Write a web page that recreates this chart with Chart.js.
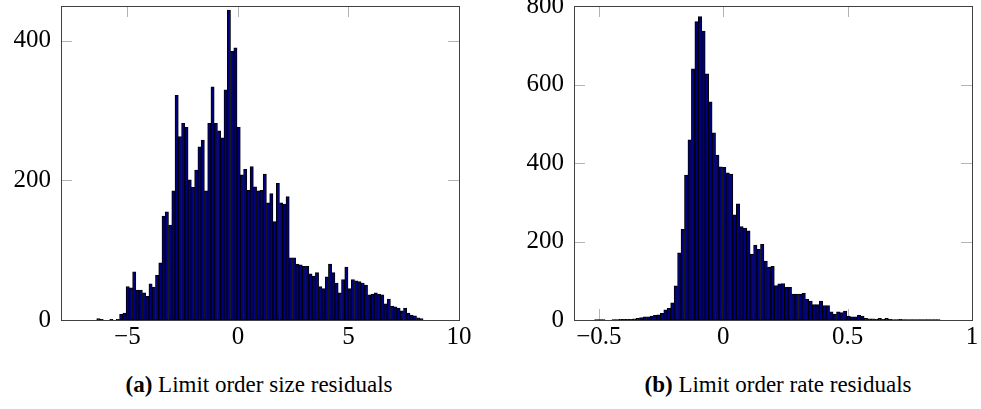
<!DOCTYPE html>
<html>
<head>
<meta charset="utf-8">
<script src="https://cdn.jsdelivr.net/npm/chart.js@4"></script>
<style>
  body { margin: 0; background: #fff; width: 981px; height: 409px; position: relative; overflow: hidden; }
  canvas { position: absolute; top: 0; }
  .cap { position: absolute; top: 372px; font-family: "Liberation Serif", serif; font-size: 23px; line-height: 26px; color: #000; white-space: nowrap; transform: translateX(-50%); }
</style>
</head>
<body>
<canvas id="sizeChart" width="490" height="360" style="left:0"></canvas>
<canvas id="rateChart" width="471" height="360" style="left:510px"></canvas>
<div class="cap" style="left:259px"><b>(a)</b> Limit order size residuals</div>
<div class="cap" style="left:778px"><b>(b)</b> Limit order rate residuals</div>
<script>
// histogram (a): limit order size residuals, 100 bins
const sizeBinStart = -6.385;
const sizeBinWidth = 0.1476;
const sizeCounts = [
  2, 1, 0, 0, 1, 0, 1, 8, 10, 48,
  46, 69, 43, 43, 39, 34, 52, 47, 64, 82,
  149, 155, 136, 185, 322, 263, 282, 276, 201, 190,
  215, 248, 258, 185, 282, 334, 282, 271, 261, 330,
  444, 385, 390, 276, 208, 216, 186, 220, 191, 185,
  186, 209, 168, 181, 141, 196, 168, 166, 177, 89,
  89, 80, 79, 77, 77, 66, 63, 68, 48, 45,
  62, 80, 68, 53, 39, 58, 76, 45, 58, 56,
  55, 53, 50, 36, 37, 39, 37, 36, 23, 30,
  20, 19, 17, 13, 17, 10, 7, 6, 3, 2
];
const sizeXTicks = [-5, 0, 5, 10];
const sizeYTicks = [0, 200, 400];

// histogram (b): limit order rate residuals, 100 bins
const rateBinStart = -0.517;
const rateBinWidth = 0.01389;
const rateCounts = [
  1, 1, 1, 0, 0, 1, 1, 2, 2, 2,
  2, 3, 4, 6, 8, 8, 10, 12, 13, 17,
  26, 30, 44, 87, 171, 231, 369, 459, 640, 760,
  773, 736, 627, 556, 477, 420, 390, 389, 375, 372,
  268, 296, 238, 234, 227, 168, 191, 180, 193, 150,
  135, 137, 88, 92, 93, 83, 83, 66, 66, 66,
  68, 53, 48, 39, 39, 48, 37, 37, 21, 15,
  21, 19, 23, 10, 8, 8, 12, 10, 4, 3,
  3, 2, 4, 2, 4, 2, 1, 1, 2, 1,
  1, 1, 1, 1, 1, 1, 1, 1, 1, 1
];
const rateXTicks = [-0.5, 0, 0.5, 1];
const rateYTicks = [0, 200, 400, 600, 800];

const FONT = { family: "'Liberation Serif', serif", size: 25 };

// pgfplots-like box with inward ticks on all four sides
const boxPlugin = {
  id: "box",
  beforeDatasetsDraw(chart) {
    const { ctx, chartArea: a, scales } = chart;
    const len = 11;
    ctx.save();
    ctx.strokeStyle = "#b4b4b4";
    ctx.lineWidth = 1;
    ctx.beginPath();
    scales.x.ticks.forEach((t) => {
      const px = Math.round(scales.x.getPixelForValue(t.value)) + 0.5;
      ctx.moveTo(px, a.bottom); ctx.lineTo(px, a.bottom - len);
      ctx.moveTo(px, a.top); ctx.lineTo(px, a.top + len);
    });
    scales.y.ticks.forEach((t) => {
      const py = Math.round(scales.y.getPixelForValue(t.value)) + 0.5;
      ctx.moveTo(a.left, py); ctx.lineTo(a.left + len, py);
      ctx.moveTo(a.right, py); ctx.lineTo(a.right - len, py);
    });
    ctx.stroke();
    ctx.restore();
  },
  afterDatasetsDraw(chart) {
    const { ctx, chartArea: a } = chart;
    ctx.save();
    ctx.strokeStyle = "#404040";
    ctx.lineWidth = 1;
    ctx.strokeRect(Math.round(a.left) + 0.5, Math.round(a.top) + 0.5,
      Math.round(a.right - a.left), Math.round(a.bottom - a.top));
    ctx.restore();
  },
};

function fmt(v) {
  return String(v).replace("-", "\u2212");
}

function makeHist(id, start, width, counts, xMin, xMax, xTicks, yMax, yTicks, yAxisWidth, padRight) {
  const points = counts.map((c, i) => ({ x: start + width * (i + 0.5), y: c }));
  return new Chart(document.getElementById(id), {
    type: "bar",
    data: {
      datasets: [{
        data: points,
        backgroundColor: "#000080",
        borderColor: "#000000",
        borderWidth: 1,
        borderSkipped: false,
        barPercentage: 1,
        categoryPercentage: 1,
      }],
    },
    options: {
      responsive: false,
      animation: false,
      devicePixelRatio: 1,
      layout: { padding: { top: 6, right: padRight, left: 0, bottom: 0 } },
      plugins: { legend: { display: false }, tooltip: { enabled: false } },
      scales: {
        x: {
          type: "linear",
          offset: false,
          min: xMin,
          max: xMax,
          afterBuildTicks: (s) => { s.ticks = xTicks.map((v) => ({ value: v })); },
          afterFit: (s) => { s.height = 40; s.paddingLeft = 0; s.paddingRight = 0; },
          grid: { display: false, offset: false },
          border: { display: false },
          ticks: { color: "#000", font: FONT, padding: -6, autoSkip: false, maxRotation: 0, callback: fmt },
        },
        y: {
          min: 0,
          max: yMax,
          afterBuildTicks: (s) => { s.ticks = yTicks.map((v) => ({ value: v })); },
          afterFit: (s) => { s.width = yAxisWidth; s.paddingTop = 0; s.paddingBottom = 0; },
          grid: { display: false, drawTicks: false },
          border: { display: false },
          ticks: { color: "#000", font: FONT, padding: 10, callback: fmt },
        },
      },
    },
    plugins: [boxPlugin],
  });
}

makeHist("sizeChart", sizeBinStart, sizeBinWidth, sizeCounts, -8, 10, sizeXTicks, 450, sizeYTicks, 61, 31);
makeHist("rateChart", rateBinStart, rateBinWidth, rateCounts, -0.6, 1, rateXTicks, 800, rateYTicks, 64, 9);
</script>
</body>
</html>
